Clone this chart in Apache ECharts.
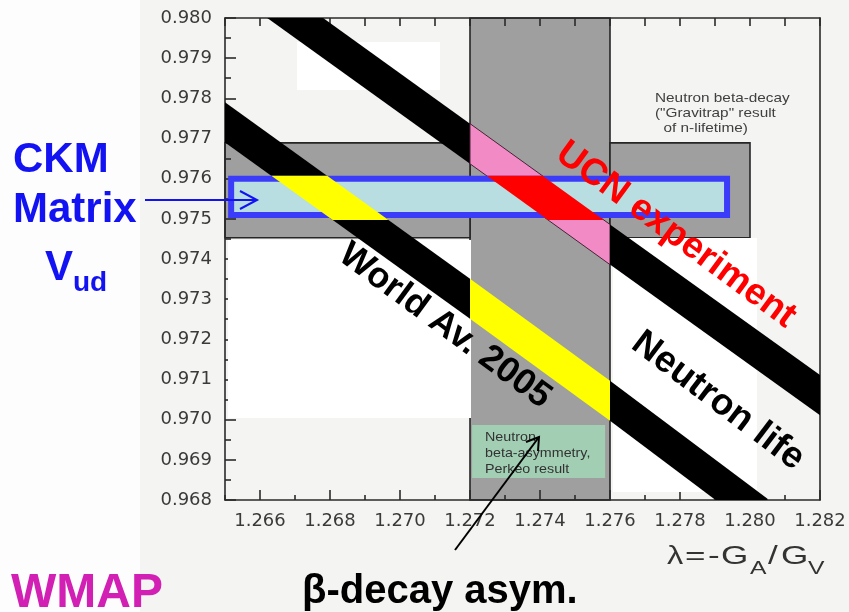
<!DOCTYPE html>
<html><head><meta charset="utf-8">
<script src="https://cdn.jsdelivr.net/npm/echarts@6/dist/echarts.min.js"></script>
<style>html,body{margin:0;padding:0;background:#f4f4f2}#c{width:849px;height:612px}</style>
</head><body><div id="c"></div>
<script>
// ---------- data ----------
const lambdaMin = 1.265, lambdaMax = 1.282;
const vudMin = 0.968, vudMax = 0.980;
const xLabelValues = [1.266, 1.268, 1.270, 1.272, 1.274, 1.276, 1.278, 1.280, 1.282];
const xOddTicks = [1.265, 1.267, 1.269, 1.271, 1.273, 1.275, 1.277, 1.279, 1.281];
const yLabelValues = [0.968, 0.969, 0.970, 0.971, 0.972, 0.973, 0.974, 0.975, 0.976, 0.977, 0.978, 0.979, 0.980];
const yHalfTicks = [0.9685, 0.9695, 0.9705, 0.9715, 0.9725, 0.9735, 0.9745, 0.9755, 0.9765, 0.9775, 0.9785, 0.9795];
// vertical grey band: beta-asymmetry (Perkeo) lambda range
const asymLambda = [1.272, 1.276];
// horizontal grey band: Vud range (left and right pieces)
const vudBandV = [0.97453, 0.97689];
const vudBandLeftLambda = [1.265, 1.272];
const vudBandRightLambda = [1.276, 1.280];
// CKM matrix box
const ckmLambda = [1.26509, 1.27943];
const ckmVud = [0.97502, 0.97607];
// Perkeo label box
const perkeoLambda = [1.27206, 1.27586];
const perkeoVud = [0.96855, 0.96987];
// neutron-lifetime bands (centre line points)
const ucnLambda = [1.2660, 1.2720, 1.2760, 1.2820];
const ucnVud    = [0.98063, 0.97687, 0.97436, 0.97061];
const worldLambda = [1.2650, 1.2720, 1.2760, 1.2805];
const worldVud    = [0.97740, 0.97301, 0.97047, 0.96753];
const bandHalfWidth = 0.0005;

// ---------- helpers ----------
function clipRect(pts, x0, y0, x1, y1) {
  const planes = [[0, x0, 1], [0, x1, -1], [1, y0, 1], [1, y1, -1]];
  let out = pts;
  for (const [ax, val, s] of planes) {
    const inp = out; out = [];
    for (let k = 0; k < inp.length; k++) {
      const a = inp[k], b = inp[(k + 1) % inp.length];
      const ina = (a[ax] - val) * s >= 0, inb = (b[ax] - val) * s >= 0;
      if (ina) out.push(a);
      if (ina !== inb) {
        const t = (val - a[ax]) / (b[ax] - a[ax]);
        out.push([a[0] + t * (b[0] - a[0]), a[1] + t * (b[1] - a[1])]);
      }
    }
    if (!out.length) return out;
  }
  return out;
}
function segTable(lams, vs, band) {
  const rows = [];
  for (let i = 0; i < lams.length - 1; i++) rows.push([lams[i], vs[i], lams[i + 1], vs[i + 1], band, i]);
  return rows;
}
const bandRows = segTable(ucnLambda, ucnVud, 0).concat(segTable(worldLambda, worldVud, 1));
const ucnColors = ['#000000', '#f28ac6', '#000000'];
const worldColors = ['#000000', '#ffff00', '#000000'];

function bandPoints(api, r) {
  const h = bandHalfWidth;
  return [api.coord([r[0], r[1] + h]), api.coord([r[2], r[3] + h]), api.coord([r[2], r[3] - h]), api.coord([r[0], r[1] - h])];
}

const greyRows = [
  [asymLambda[0], asymLambda[1], vudMin, vudMax],
  [vudBandLeftLambda[0], vudBandLeftLambda[1], vudBandV[0], vudBandV[1]],
  [vudBandRightLambda[0], vudBandRightLambda[1], vudBandV[0], vudBandV[1]]
];

const chart = echarts.init(document.getElementById('c'), null, { renderer: 'canvas' });
const axisCol = '#2a2a2a';
const lblStyle = { fontFamily: 'DejaVu Sans', fontSize: 18, color: '#3a3a3a' };

function T(x, y, text, font, fill, extra) {
  const e = {
    type: 'text', x: x, y: y, z: 20,
    style: { text: text, font: font, fill: fill, align: 'left', verticalAlign: 'middle' }
  };
  if (extra) {
    if (extra.scaleX) e.scaleX = extra.scaleX;
    if (extra.lineHeight) e.style.lineHeight = extra.lineHeight;
  }
  return e;
}
const boldF = (s) => 'bold ' + s + 'px "Liberation Sans", Arial, sans-serif';
const regF = (s) => s + 'px "Liberation Sans", Arial, sans-serif';

const tickLine = { color: axisCol, width: 1.6 };
const option = {
  backgroundColor: '#f4f4f2',
  animation: false,
  grid: { left: 225, right: 29, top: 18, bottom: 112, containLabel: false },
  xAxis: [
    { type: 'value', min: lambdaMin, max: lambdaMax, position: 'bottom', z: 2,
      axisLine: { show: true, lineStyle: { color: axisCol, width: 1.6 } },
      axisTick: { show: true, inside: true, length: 10, customValues: xLabelValues, lineStyle: tickLine },
      axisLabel: Object.assign({ customValues: xLabelValues, margin: 12, formatter: v => v.toFixed(3) }, lblStyle),
      splitLine: { show: false } },
    { type: 'value', min: lambdaMin, max: lambdaMax, position: 'bottom', offset: 0, z: 2,
      axisLine: { show: false },
      axisTick: { show: true, inside: true, length: 5, customValues: xOddTicks, lineStyle: tickLine },
      axisLabel: { show: false }, splitLine: { show: false } },
    { type: 'value', min: lambdaMin, max: lambdaMax, position: 'top', interval: 0.001, z: 2,
      axisLine: { show: true, lineStyle: { color: axisCol, width: 1.6 } },
      axisTick: { show: true, inside: true, length: 8, lineStyle: tickLine },
      axisLabel: { show: false }, splitLine: { show: false } }
  ],
  yAxis: [
    { type: 'value', min: vudMin, max: vudMax, position: 'left', z: 2,
      axisLine: { show: true, lineStyle: { color: axisCol, width: 1.6 } },
      axisTick: { show: true, inside: true, length: 11, customValues: yLabelValues, lineStyle: tickLine },
      axisLabel: Object.assign({ customValues: yLabelValues, margin: 13, formatter: v => v.toFixed(3) }, lblStyle),
      splitLine: { show: false } },
    { type: 'value', min: vudMin, max: vudMax, position: 'left', offset: 0, z: 2,
      axisLine: { show: false },
      axisTick: { show: true, inside: true, length: 6, customValues: yHalfTicks, lineStyle: tickLine },
      axisLabel: { show: false }, splitLine: { show: false } },
    { type: 'value', min: vudMin, max: vudMax, position: 'right', z: 2,
      axisLine: { show: true, lineStyle: { color: axisCol, width: 1.6 } },
      axisTick: { show: false }, axisLabel: { show: false }, splitLine: { show: false } }
  ],
  series: [
    { // grey regions
      type: 'custom', z: 1, silent: true, xAxisIndex: 0, yAxisIndex: 0,
      data: greyRows,
      renderItem: (params, api) => {
        const p0 = api.coord([api.value(0), api.value(3)]);
        const p1 = api.coord([api.value(1), api.value(2)]);
        return { type: 'rect', shape: { x: p0[0], y: p0[1], width: p1[0] - p0[0], height: p1[1] - p0[1] },
          style: { fill: '#9f9f9f', stroke: '#262626', lineWidth: 1.6 } };
      }
    },
    { // Perkeo green label box
      type: 'custom', z: 1.5, silent: true, xAxisIndex: 0, yAxisIndex: 0,
      data: [[perkeoLambda[0], perkeoLambda[1], perkeoVud[0], perkeoVud[1]]],
      renderItem: (params, api) => {
        const p0 = api.coord([api.value(0), api.value(3)]);
        const p1 = api.coord([api.value(1), api.value(2)]);
        return { type: 'rect', shape: { x: p0[0], y: p0[1], width: p1[0] - p0[0], height: p1[1] - p0[1] },
          style: { fill: '#a2cfb4' } };
      }
    },
    { // lifetime bands
      type: 'custom', z: 4, silent: true, xAxisIndex: 0, yAxisIndex: 0,
      data: bandRows,
      renderItem: (params, api) => {
        const cs = params.coordSys;
        const r = [0, 1, 2, 3, 4, 5].map(k => api.value(k));
        const pts = clipRect(bandPoints(api, r), cs.x, cs.y, cs.x + cs.width, cs.y + cs.height);
        const col = r[4] === 0 ? ucnColors[r[5]] : worldColors[r[5]];
        const pink = (r[4] === 0 && r[5] === 1);
        return { type: 'polygon', shape: { points: pts },
          style: { fill: col, stroke: pink ? '#4a2238' : null, lineWidth: pink ? 1 : 0 } };
      }
    },
    { // CKM box
      type: 'custom', z: 5, silent: true, xAxisIndex: 0, yAxisIndex: 0,
      data: [[ckmLambda[0], ckmLambda[1], ckmVud[0], ckmVud[1]]],
      renderItem: (params, api) => {
        const p0 = api.coord([api.value(0), api.value(3)]);
        const p1 = api.coord([api.value(1), api.value(2)]);
        const lw = 6;
        return { type: 'rect', shape: { x: p0[0] + lw / 2, y: p0[1] + lw / 2, width: p1[0] - p0[0] - lw, height: p1[1] - p0[1] - lw },
          style: { fill: '#b8dee2', stroke: '#3b3bfa', lineWidth: lw } };
      }
    },
    { // highlighted parts of the bands inside the CKM box
      type: 'custom', z: 6, silent: true, xAxisIndex: 0, yAxisIndex: 0,
      data: [bandRows[1], bandRows[3]],
      renderItem: (params, api) => {
        const cs = params.coordSys;
        const r = [0, 1, 2, 3, 4, 5].map(k => api.value(k));
        const top = api.coord([ckmLambda[0], ckmVud[1]])[1];
        const bot = api.coord([ckmLambda[0], ckmVud[0]])[1] + 2;
        const pts = clipRect(bandPoints(api, r), cs.x, top, cs.x + cs.width, bot);
        return { type: 'polygon', shape: { points: pts },
          style: { fill: r[4] === 0 ? '#ff0000' : '#ffff00' } };
      }
    }
  ],
  graphic: { elements: [
    { type: 'rect', z: 0, shape: { x: 0, y: 0, width: 140, height: 612 }, style: { fill: '#fdfdfd' } },
    // white overlay patches
    { type: 'rect', z: 3, shape: { x: 297, y: 42, width: 143, height: 48 }, style: { fill: '#ffffff' } },
    { type: 'rect', z: 3, shape: { x: 228, y: 240, width: 243, height: 178 }, style: { fill: '#ffffff' } },
    { type: 'rect', z: 3, shape: { x: 613, y: 238, width: 144, height: 254 }, style: { fill: '#ffffff' } },
    // left labels
    T(13, 160, 'CKM', boldF(42), '#1212f2'),
    T(13, 210, 'Matrix', boldF(42), '#1212f2'),
    T(45, 268, 'V', boldF(42), '#1212f2'),
    T(73, 283, 'ud', boldF(28), '#1212f2'),
    // blue arrow
    { type: 'polyline', z: 20, shape: { points: [[145, 200], [257, 200]] }, style: { stroke: '#1212f2', lineWidth: 2 } },
    { type: 'polyline', z: 20, shape: { points: [[240, 191], [257, 200], [240, 209]] }, style: { stroke: '#1212f2', lineWidth: 2, fill: null } },
    // annotations from the scan
    T(655, 113, 'Neutron beta-decay\n("Gravitrap" result\n  of n-lifetime)', regF(13), '#404040', { scaleX: 1.18, lineHeight: 15 }),
    T(485, 453, 'Neutron\nbeta-asymmetry,\nPerkeo result', regF(13), '#333', { scaleX: 1.1, lineHeight: 16 }),
    // rotated overlay texts
    { type: 'text', z: 20, x: 676, y: 235, rotation: -36.4 * Math.PI / 180,
      style: { text: 'UCN experiment', font: boldF(37), fill: '#ff0000', align: 'center', verticalAlign: 'middle' } },
    { type: 'text', z: 20, x: 445, y: 326, rotation: -36.3 * Math.PI / 180,
      style: { text: 'World Av. 2005', font: boldF(36), fill: '#000', align: 'center', verticalAlign: 'middle' } },
    { type: 'text', z: 20, x: 718, y: 401, rotation: -37 * Math.PI / 180,
      style: { text: 'Neutron life', font: boldF(37), fill: '#000', align: 'center', verticalAlign: 'middle' } },
    // black arrow
    { type: 'polyline', z: 20, shape: { points: [[455, 550], [539, 437]] }, style: { stroke: '#000', lineWidth: 2 } },
    { type: 'polyline', z: 20, shape: { points: [[526, 442], [539, 437], [538, 451]] }, style: { stroke: '#000', lineWidth: 2, fill: null } },
    // axis title lambda = -GA/GV
    T(667, 557, 'λ', regF(26), '#333', { scaleX: 1.25 }),
    T(685, 557, '=', regF(26), '#333', { scaleX: 1.35 }),
    T(708, 557, '-', regF(26), '#333', { scaleX: 1.35 }),
    T(721, 557, 'G', regF(26), '#333', { scaleX: 1.35 }),
    T(750, 569, 'A', regF(19), '#333', { scaleX: 1.3 }),
    T(768, 557, '/', regF(26), '#333', { scaleX: 1.35 }),
    T(781, 557, 'G', regF(26), '#333', { scaleX: 1.35 }),
    T(808, 569, 'V', regF(19), '#333', { scaleX: 1.3 }),
    // bottom labels
    T(302, 592, 'β-decay asym.', boldF(40), '#000'),
    T(11, 594, 'WMAP', boldF(48), '#d21fb4')
  ] }
};
chart.setOption(option);
</script>
</body></html>
